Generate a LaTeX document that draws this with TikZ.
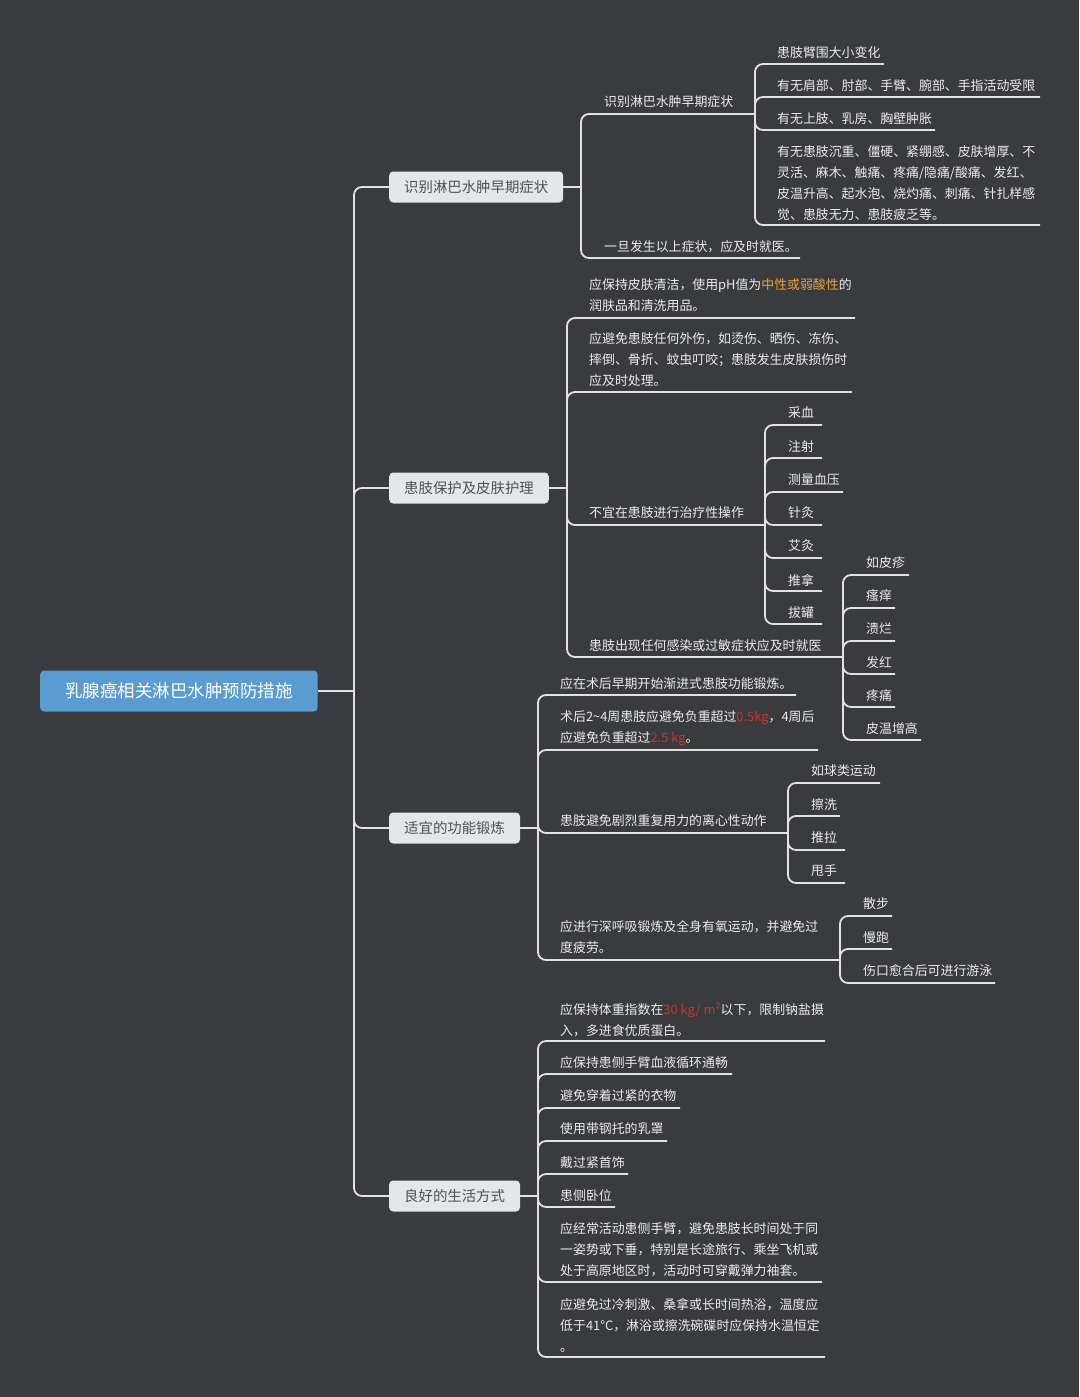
\documentclass[tikz,border=0pt]{standalone}
\usepackage{fontspec}
\setmainfont{Noto Sans CJK SC}
\definecolor{bgc}{HTML}{3A3B3F}
\definecolor{linec}{HTML}{E2E2E2}
\definecolor{leaftext}{HTML}{ECECEC}
\definecolor{topicfill}{HTML}{E5E6E9}
\definecolor{topictext}{HTML}{505153}
\definecolor{rootfill}{HTML}{5A9BD2}
\definecolor{orangec}{HTML}{E5A33A}
\definecolor{redc}{HTML}{C73530}
\begin{document}
\begin{tikzpicture}[x=1pt,y=-1pt,
 conn/.style={draw=linec,line width=1.8pt,rounded corners=8pt},
 stem/.style={draw=linec,line width=1.8pt},
 leaf/.style={anchor=west,inner sep=0pt,yshift=-1pt,text=leaftext,font=\fontsize{12.9}{21}\selectfont,align=left},
 topic/.style={anchor=west,fill=topicfill,text=topictext,rounded corners=4pt,inner xsep=15pt,inner ysep=0pt,minimum height=31pt,font=\fontsize{14.4}{17}\selectfont},
 rootbox/.style={anchor=west,fill=rootfill,text=white,rounded corners=4pt,inner xsep=25pt,inner ysep=0pt,minimum height=41pt,font=\fontsize{17.5}{20}\selectfont}]
\fill[bgc] (0,0) rectangle (1079,1397);
\useasboundingbox (0,0) rectangle (1079,1397);

% root and main topics
\node[rootbox] (root) at (40,691) {乳腺癌相关淋巴水肿预防措施};
\coordinate (trunk) at (354,691);
\draw[stem] (root.east) -- (trunk);
\node[topic] (n1) at (389,187) {识别淋巴水肿早期症状};
\node[topic] (n2) at (389,488) {患肢保护及皮肤护理};
\node[topic] (n3) at (389,828) {适宜的功能锻炼};
\node[topic] (n4) at (389,1196) {良好的生活方式};
\foreach \n in {n1,n2,n3,n4} \draw[conn] (trunk) |- (\n.west);

% ---------- branch 1
\coordinate (n1v) at (581,187);
\draw[stem] (n1.east) -- (n1v);
\node[leaf] (a1) at (604,101) {识别淋巴水肿早期症状};
\coordinate (a1e) at (755,114);
\node[leaf] (a2) at (604,246) {一旦发生以上症状，应及时就医。};
\coordinate (a2e) at (800,258);
\foreach \c in {a1e,a2e} \draw[conn] (n1v) |- (\c);

\node[leaf] (a11) at (777,52) {患肢臂围大小变化};
\coordinate (a11e) at (884,64);
\node[leaf] (a12) at (777,85) {有无肩部、肘部、手臂、腕部、手指活动受限};
\coordinate (a12e) at (1040,97);
\node[leaf] (a13) at (777,118) {有无上肢、乳房、胸壁肿胀};
\coordinate (a13e) at (935,130);
\node[leaf] (a14) at (777,182) {有无患肢沉重、僵硬、紧绷感、皮肤增厚、不\\灵活、麻木、触痛、疼痛/隐痛/酸痛、发红、\\皮温升高、起水泡、烧灼痛、刺痛、针扎样感\\觉、患肢无力、患肢疲乏等。};
\coordinate (a14e) at (1040,225);
\foreach \c in {a11e,a12e,a13e,a14e} \draw[conn] (a1e) |- (\c);

% ---------- branch 2
\coordinate (n2v) at (567,488);
\draw[stem] (n2.east) -- (n2v);
\node[leaf] (b1) at (589,294.5) {应保持皮肤清洁，使用pH值为\textcolor{orangec}{中性或弱酸性}的\\润肤品和清洗用品。};
\coordinate (b1e) at (855,318);
\node[leaf] (b2) at (589,359) {应避免患肢任何外伤，如烫伤、晒伤、冻伤、\\摔倒、骨折、蚊虫叮咬；患肢发生皮肤损伤时\\应及时处理。};
\coordinate (b2e) at (852,392);
\node[leaf] (b3) at (589,512) {不宜在患肢进行治疗性操作};
\coordinate (b3e) at (765,525);
\node[leaf] (b4) at (589,645) {患肢出现任何感染或过敏症状应及时就医};
\coordinate (b4e) at (843,657);
\foreach \c in {b1e,b2e,b3e,b4e} \draw[conn] (n2v) |- (\c);

\node[leaf] (b31) at (788,412) {采血};
\coordinate (b31e) at (822,425);
\node[leaf] (b32) at (788,446) {注射};
\coordinate (b32e) at (822,458);
\node[leaf] (b33) at (788,479) {测量血压};
\coordinate (b33e) at (843,492);
\node[leaf] (b34) at (788,512) {针灸};
\coordinate (b34e) at (822,525);
\node[leaf] (b35) at (788,545) {艾灸};
\coordinate (b35e) at (822,558);
\node[leaf] (b36) at (788,579) {推拿};
\coordinate (b36e) at (822,591);
\node[leaf] (b37) at (788,612) {拔罐};
\coordinate (b37e) at (822,624);
\foreach \c in {b31e,b32e,b33e,b34e,b35e,b36e,b37e} \draw[conn] (b3e) |- (\c);

\node[leaf] (b41) at (866,562) {如皮疹};
\coordinate (b41e) at (909,575);
\node[leaf] (b42) at (866,595) {瘙痒};
\coordinate (b42e) at (895,608);
\node[leaf] (b43) at (866,628) {溃烂};
\coordinate (b43e) at (895,641);
\node[leaf] (b44) at (866,662) {发红};
\coordinate (b44e) at (895,674);
\node[leaf] (b45) at (866,695) {疼痛};
\coordinate (b45e) at (895,707);
\node[leaf] (b46) at (866,728) {皮温增高};
\coordinate (b46e) at (921,740);
\foreach \c in {b41e,b42e,b43e,b44e,b45e,b46e} \draw[conn] (b4e) |- (\c);

% ---------- branch 3
\coordinate (n3v) at (538,828);
\draw[stem] (n3.east) -- (n3v);
\node[leaf] (c1) at (560,683) {应在术后早期开始渐进式患肢功能锻炼。};
\coordinate (c1e) at (796,695);
\node[leaf] (c2) at (560,727.5) {术后2\textasciitilde 4周患肢应避免负重超过\textcolor{redc}{0.5kg}，4周后\\应避免负重超过\textcolor{redc}{2.5 kg}。};
\coordinate (c2e) at (818,750);
\node[leaf] (c3) at (560,820) {患肢避免剧烈重复用力的离心性动作};
\coordinate (c3e) at (788,833);
\node[leaf] (c4) at (560,936.5) {应进行深呼吸锻炼及全身有氧运动，并避免过\\度疲劳。};
\coordinate (c4e) at (840,960);
\foreach \c in {c1e,c2e,c3e,c4e} \draw[conn] (n3v) |- (\c);

\node[leaf] (c31) at (811,770) {如球类运动};
\coordinate (c31e) at (880,783);
\node[leaf] (c32) at (811,804) {擦洗};
\coordinate (c32e) at (840,816);
\node[leaf] (c33) at (811,837) {推拉};
\coordinate (c33e) at (845,850);
\node[leaf] (c34) at (811,870) {甩手};
\coordinate (c34e) at (845,883);
\foreach \c in {c31e,c32e,c33e,c34e} \draw[conn] (c3e) |- (\c);

\node[leaf] (c41) at (863,903) {散步};
\coordinate (c41e) at (892,916);
\node[leaf] (c42) at (863,937) {慢跑};
\coordinate (c42e) at (892,949);
\node[leaf] (c43) at (863,970) {伤口愈合后可进行游泳};
\coordinate (c43e) at (995,983);
\foreach \c in {c41e,c42e,c43e} \draw[conn] (c4e) |- (\c);

% ---------- branch 4
\coordinate (n4v) at (538,1196);
\draw[stem] (n4.east) -- (n4v);
\node[leaf] (d1) at (560,1018.5) {应保持体重指数在\textcolor{redc}{30 kg/ m²}以下，限制钠盐摄\\入，多进食优质蛋白。};
\coordinate (d1e) at (825,1041);
\node[leaf] (d2) at (560,1062) {应保持患侧手臂血液循环通畅};
\coordinate (d2e) at (732,1074);
\node[leaf] (d3) at (560,1095) {避免穿着过紧的衣物};
\coordinate (d3e) at (680,1108);
\node[leaf] (d4) at (560,1128) {使用带钢托的乳罩};
\coordinate (d4e) at (667,1141);
\node[leaf] (d5) at (560,1162) {戴过紧首饰};
\coordinate (d5e) at (628,1174);
\node[leaf] (d6) at (560,1195) {患侧卧位};
\coordinate (d6e) at (615,1207);
\node[leaf] (d7) at (560,1249) {应经常活动患侧手臂，避免患肢长时间处于同\\一姿势或下垂，特别是长途旅行、乘坐飞机或\\处于高原地区时，活动时可穿戴弹力袖套。};
\coordinate (d7e) at (822,1282);
\node[leaf] (d8) at (560,1324) {应避免过冷刺激、桑拿或长时间热浴，温度应\\低于41°C，淋浴或擦洗碗碟时应保持水温恒定\\。};
\coordinate (d8e) at (825,1357);
\foreach \c in {d1e,d2e,d3e,d4e,d5e,d6e,d7e,d8e} \draw[conn] (n4v) |- (\c);
\end{tikzpicture}
\end{document}
